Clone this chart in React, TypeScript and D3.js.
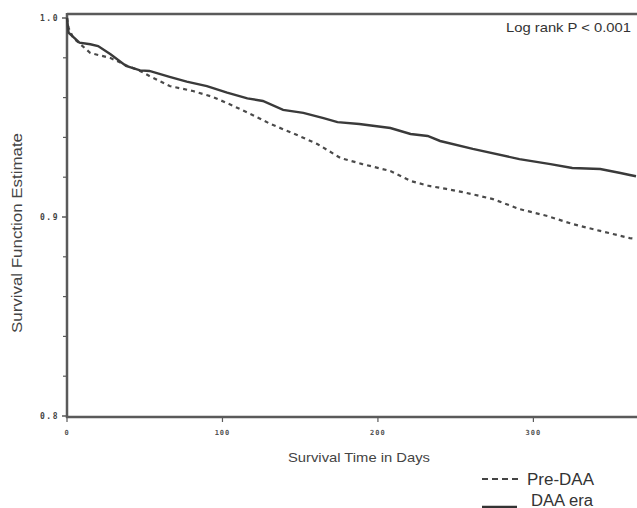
import React from "react";
import * as d3 from "d3";

const preDaaDays = [0, 1, 4, 15, 28, 39, 47, 53, 66, 81, 94, 107, 118, 131, 145, 161, 176, 190, 208, 221, 233, 244, 257, 274, 291, 309, 325, 343, 362, 366];
const preDaaSurv = [1.0, 0.995, 0.990, 0.9824, 0.9799, 0.9759, 0.9734, 0.9709, 0.9658, 0.9633, 0.9603, 0.9558, 0.9518, 0.9467, 0.9422, 0.9367, 0.9296, 0.9266, 0.9231, 0.9181, 0.9156, 0.9141, 0.9121, 0.9090, 0.9040, 0.9005, 0.8965, 0.8930, 0.8894, 0.8890];

const daaDays = [0, 1, 8, 15, 20, 28, 38, 47, 53, 66, 77, 90, 103, 116, 126, 139, 152, 165, 174, 188, 208, 221, 232, 240, 261, 291, 311, 325, 343, 356, 362, 366];
const daaSurv = [1.0, 0.9926, 0.9876, 0.9868, 0.9859, 0.9818, 0.9759, 0.9737, 0.9734, 0.9704, 0.9680, 0.9658, 0.9625, 0.9596, 0.9583, 0.9538, 0.9523, 0.9497, 0.9477, 0.9467, 0.9447, 0.9417, 0.9407, 0.9382, 0.9342, 0.9291, 0.9266, 0.9246, 0.9241, 0.9221, 0.9211, 0.9205];

const xTicks = [0, 100, 200, 300];
const xTickLabels = ["0", "100", "200", "300"];
const yMajorTicks = [1.0, 0.9, 0.8];
const yMajorLabels = ["1.0", "0.9", "0.8"];
const yMinorTicks = [0.98, 0.96, 0.94, 0.92, 0.88, 0.86, 0.84, 0.82];

const legendLabels = ["Pre-DAA", "DAA era"];
const annotation = "Log rank P < 0.001";
const xTitle = "Survival Time in Days";
const yTitle = "Survival Function Estimate";

export default function App() {
  const W = 637, H = 508;
  const x = d3.scaleLinear().domain([0, 366]).range([67, 636]);
  const y = d3.scaleLinear().domain([0.8, 1.0]).range([416, 18]);
  const line = d3.line<[number, number]>().x((d) => x(d[0])).y((d) => y(d[1]));
  const pre = preDaaDays.map((d, i) => [d, preDaaSurv[i]] as [number, number]);
  const daa = daaDays.map((d, i) => [d, daaSurv[i]] as [number, number]);
  const axisColor = "#5a5a5a";
  const lineColor = "#3a3a3a";
  const x0 = x(0);
  const yb = 417;
  return (
    <svg width={W} height={H} style={{ position: "absolute", left: 0, top: 0, background: "#fff" }}>
      {/* frame */}
      <line x1={x0} x2={W + 2} y1={14} y2={14} stroke={axisColor} strokeWidth={2.5} />
      <line x1={x0} x2={x0} y1={13} y2={yb + 1} stroke={axisColor} strokeWidth={2.5} />
      <line x1={x0 - 1} x2={W + 2} y1={yb} y2={yb} stroke={axisColor} strokeWidth={2.5} />
      {/* y ticks */}
      {yMajorTicks.map((t, i) => (
        <g key={"ym" + i}>
          <line x1={x0 - 5} x2={x0} y1={y(t)} y2={y(t)} stroke={axisColor} strokeWidth={1.5} />
          <text x={x0 - 8} y={y(t) + 3} textAnchor="end" fontFamily="DejaVu Sans Mono" fontWeight="bold" fontSize={8} letterSpacing={1.5} fill="#444">
            {yMajorLabels[i]}
          </text>
        </g>
      ))}
      {yMinorTicks.map((t, i) => (
        <line key={"yn" + i} x1={x0 - 4} x2={x0} y1={y(t)} y2={y(t)} stroke={axisColor} strokeWidth={1.2} />
      ))}
      {/* x ticks */}
      {xTicks.map((t, i) => (
        <g key={"xt" + i}>
          <line x1={x(t)} x2={x(t)} y1={yb} y2={yb + 5} stroke={axisColor} strokeWidth={1.2} />
          <text x={x(t)} y={yb + 18} textAnchor="middle" fontFamily="DejaVu Sans Mono" fontWeight="bold" fontSize={7} letterSpacing={1} fill="#555">
            {xTickLabels[i]}
          </text>
        </g>
      ))}
      {/* curves */}
      <path d={line(pre) || ""} fill="none" stroke="#4a4a4a" strokeWidth={2.2} strokeDasharray="4,4" />
      <path d={line(daa) || ""} fill="none" stroke={lineColor} strokeWidth={2.4} />
      {/* titles */}
      <text x={359} y={462} textAnchor="middle" fontFamily="Liberation Sans, Arial" fontSize={13} fill="#444" textLength={142} lengthAdjust="spacingAndGlyphs">
        {xTitle}
      </text>
      <text transform="translate(22,233) rotate(-90)" textAnchor="middle" fontFamily="Liberation Sans, Arial" fontSize={14} fill="#444" textLength={200} lengthAdjust="spacingAndGlyphs">
        {yTitle}
      </text>
      <text x={631} y={32} textAnchor="end" fontFamily="Liberation Sans, Arial" fontSize={13} fill="#333" textLength={125} lengthAdjust="spacingAndGlyphs">
        {annotation}
      </text>
      {/* legend */}
      <line x1={482} x2={518} y1={479} y2={479} stroke="#444" strokeWidth={2} strokeDasharray="6,4" />
      <text x={527} y={485} fontFamily="Liberation Sans, Arial" fontSize={16} fill="#333" textLength={67} lengthAdjust="spacingAndGlyphs">
        {legendLabels[0]}
      </text>
      <line x1={482} x2={517} y1={507} y2={507} stroke="#333" strokeWidth={2.5} />
      <text x={531} y={506} fontFamily="Liberation Sans, Arial" fontSize={16} fill="#333" textLength={62} lengthAdjust="spacingAndGlyphs">
        {legendLabels[1]}
      </text>
    </svg>
  );
}
